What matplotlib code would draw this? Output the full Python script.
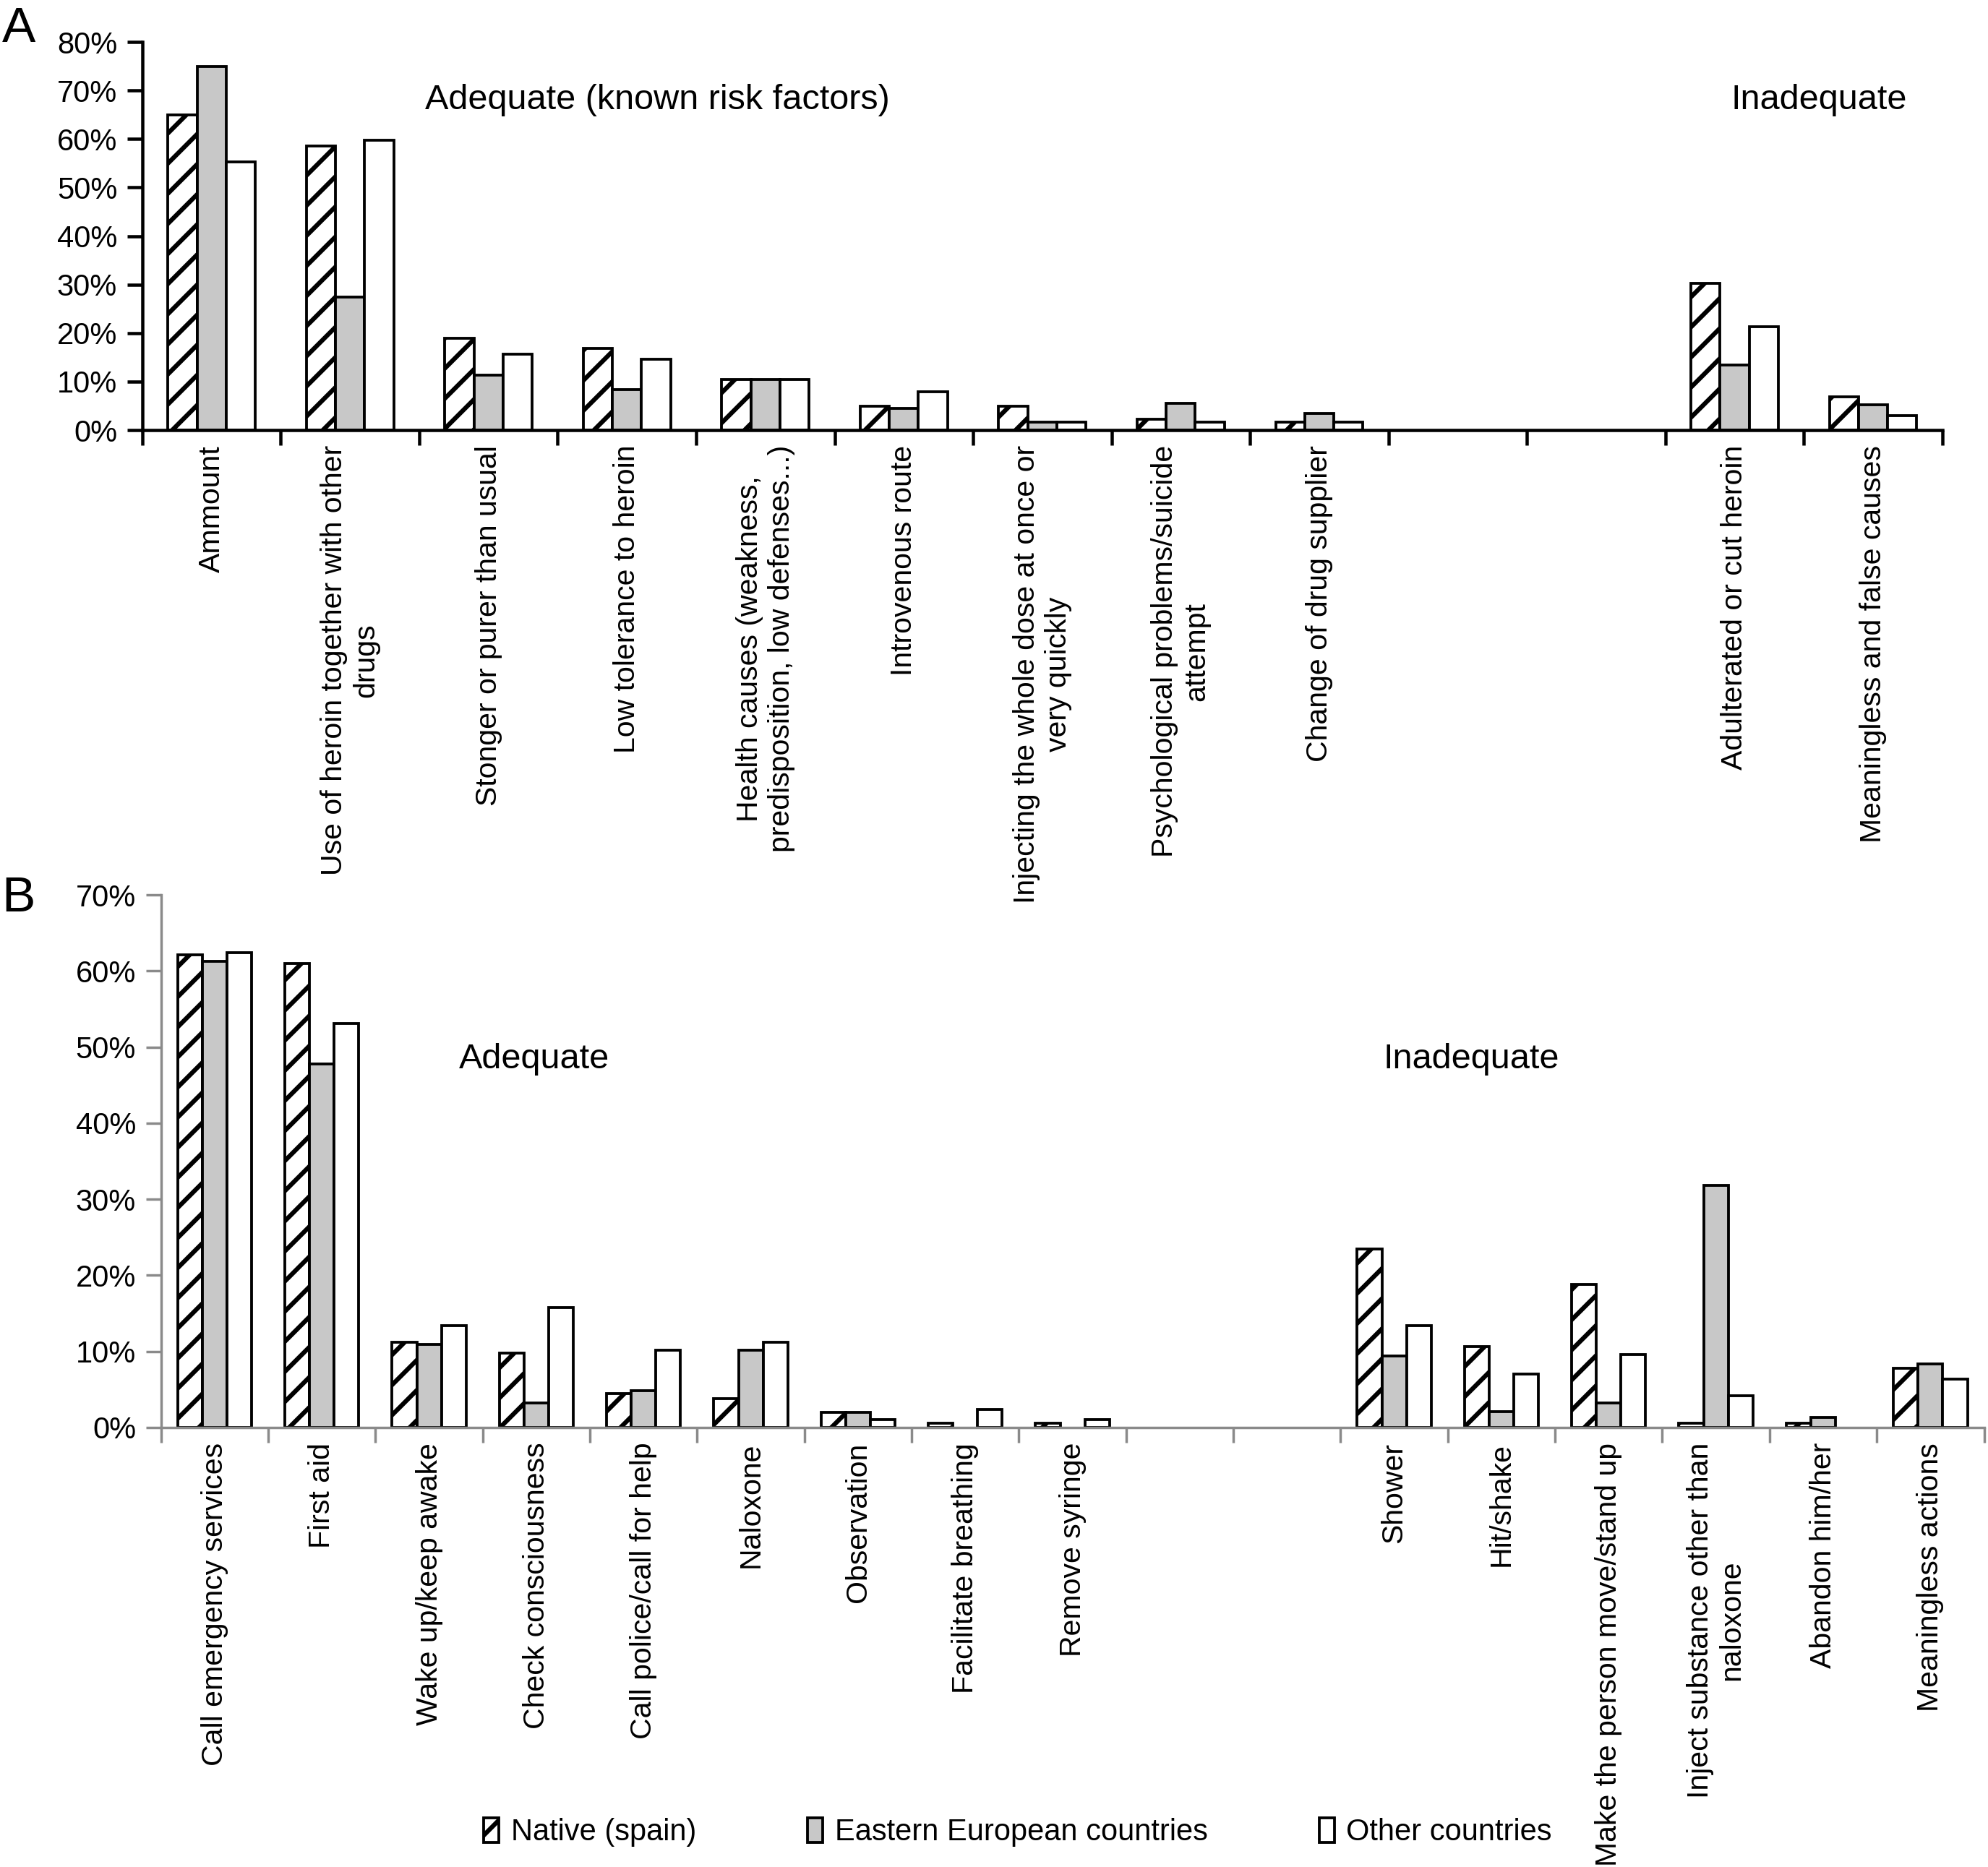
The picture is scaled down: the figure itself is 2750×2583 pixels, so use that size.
import matplotlib
matplotlib.use("Agg")
import matplotlib.pyplot as plt
import numpy as np

plt.rcParams['font.family'] = ['Liberation Sans', 'DejaVu Sans']
plt.rcParams['hatch.linewidth'] = 1.8

# ---- data ----
series = ['Native (spain)', 'Eastern European countries', 'Other countries']

cats_a = ['Ammount', 'Use of heroin together with other\ndrugs',
          'Stonger or purer than usual', 'Low tolerance to heroin',
          'Health causes (weakness,\npredisposition, low defenses...)',
          'Introvenous route', 'Injecting the whole dose at once or\nvery quickly',
          'Psychological problems/suicide\nattempt', 'Change of drug supplier',
          '', '', 'Adulterated or cut heroin', 'Meaningless and false causes']
native_a = [65, 58.5, 19, 16.8, 10.5, 5.0, 5.0, 2.3, 1.6, 0, 0, 30.3, 6.8]
eastern_a = [75, 27.5, 11.3, 8.4, 10.5, 4.5, 1.6, 5.6, 3.4, 0, 0, 13.5, 5.2]
other_a = [55.3, 59.7, 15.7, 14.6, 10.5, 7.9, 1.6, 1.7, 1.7, 0, 0, 21.3, 3.0]

cats_b = ['Call emergency services', 'First aid', 'Wake up/keep awake',
          'Check consciousness', 'Call police/call for help', 'Naloxone',
          'Observation', 'Facilitate breathing', 'Remove syringe', '', '',
          'Shower', 'Hit/shake', 'Make the person move/stand up',
          'Inject substance other than\nnaloxone', 'Abandon him/her',
          'Meaningless actions']
native_b = [62.1, 61.0, 11.2, 9.8, 4.5, 3.8, 2.0, 0.6, 0.6, 0, 0,
            23.5, 10.6, 18.8, 0.6, 0.6, 7.8]
eastern_b = [61.3, 47.8, 10.9, 3.2, 4.8, 10.2, 2.0, 0, 0, 0, 0,
             9.4, 2.1, 3.2, 31.8, 1.3, 8.4]
other_b = [62.4, 53.1, 13.4, 15.8, 10.2, 11.2, 1.0, 2.4, 1.0, 0, 0,
           13.4, 7.0, 9.6, 4.2, 0, 6.4]

fig = plt.figure(figsize=(11, 10.332), dpi=250)

styles = [dict(facecolor='white', hatch='//'),
          dict(facecolor='#c8c8c8'),
          dict(facecolor='white')]


def draw_panel(ax, cats, vals, width, ymax, step, spine_color, spine_lw):
    x = np.arange(len(cats))
    for i, (v, st) in enumerate(zip(vals, styles)):
        bars = ax.bar(x + (i - 1) * width, v, width, edgecolor='black',
                      linewidth=1.1, label=series[i], **st)
        # empty bars are not drawn at all
        for b, h in zip(bars, v):
            if h == 0:
                b.set_visible(False)
    ax.set_xlim(-0.5, len(cats) - 0.5)
    ax.set_ylim(0, ymax)
    ax.set_yticks(np.arange(0, ymax + 1, step))
    ax.set_yticklabels([f'{int(t)}%' for t in np.arange(0, ymax + 1, step)],
                       fontsize=12)
    ax.set_xticks(x)
    ax.set_xticklabels(cats, rotation=90, fontsize=11.8, va='top', ha='center',
                       multialignment='center')
    ax.set_xticks(np.arange(-0.5, len(cats) + 0.5, 1), minor=True)
    ax.tick_params(axis='x', which='major', length=0, pad=6)
    ax.tick_params(axis='x', which='minor', length=6, width=spine_lw, color=spine_color)
    ax.tick_params(axis='y', length=6, width=spine_lw, color=spine_color, pad=4)
    for s in ['top', 'right']:
        ax.spines[s].set_visible(False)
    for s in ['left', 'bottom']:
        ax.spines[s].set_color(spine_color)
        ax.spines[s].set_linewidth(spine_lw)


# Panel A
ax_a = fig.add_axes([0.0716, 0.7696, 0.9054, 0.2079])
ax_a.set_zorder(2)
draw_panel(ax_a, cats_a, [native_a, eastern_a, other_a], 0.21, 80, 10, 'black', 1.3)
ax_a.text(1.54, 68, 'Adequate (known risk factors)', fontsize=14, va='center', ha='left')
ax_a.text(11.61, 68, 'Inadequate', fontsize=14, va='center', ha='center')
fig.text(0.001, 0.997, 'A', fontsize=20, va='top', ha='left')

# Panel B
ax_b = fig.add_axes([0.081, 0.2354, 0.917, 0.2853])
ax_b.patch.set_visible(False)
draw_panel(ax_b, cats_b, [native_b, eastern_b, other_b], 0.23, 70, 10, '#8a8a8a', 1.0)
ax_b.text(2.28, 48.4, 'Adequate', fontsize=14, va='center', ha='left')
ax_b.text(10.9, 48.4, 'Inadequate', fontsize=14, va='center', ha='left')
fig.text(0.001, 0.531, 'B', fontsize=20, va='top', ha='left')

handles, labels = ax_b.get_legend_handles_labels()
fig.legend(handles, labels, loc='center', bbox_to_anchor=(0.512, 0.0186), ncol=3,
           frameon=False, handlelength=0.5, handleheight=0.9,
           handletextpad=0.4, columnspacing=3.7, fontsize=12)

fig.savefig('out.png', dpi=250)
